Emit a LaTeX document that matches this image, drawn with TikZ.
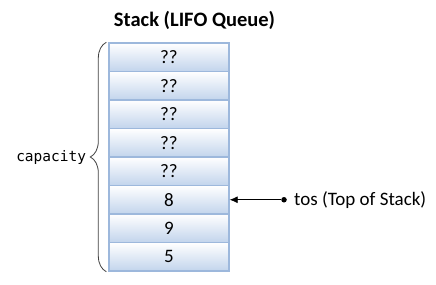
\documentclass[tikz,border=0pt]{standalone}
\usepackage{fontspec}
\setmainfont{Carlito}
\newfontfamily\monofont{DejaVu Sans Mono}
\usetikzlibrary{positioning, arrows.meta, decorations.pathreplacing, calc}
\definecolor{cellblue}{HTML}{C2D4EC}
\definecolor{cellborder}{HTML}{9DB8DC}
\definecolor{bracegray}{HTML}{404040}

\begin{document}
\begin{tikzpicture}[
        x=1pt, y=-1pt,
        cell/.style={draw=cellborder, line width=1.4pt, top color=white, bottom color=cellblue,
                     minimum width=120pt, minimum height=28.5pt, inner sep=0pt,
                     font=\fontsize{19}{21}\selectfont},
        arr/.style={-{Latex[length=8pt, width=7pt]}, thick},
        every node/.style={font=\fontsize{19}{21}\selectfont}
    ]
    \useasboundingbox (0,0) rectangle (436,284);

    % Title
    \node[font=\fontsize{20.5}{22}\selectfont\bfseries] (title) at (194.5,20) {Stack (LIFO Queue)};

    % Stack cells, top to bottom
    \foreach \v [count=\i] in {??,??,??,??,??,8,9,5}
        \node[cell] (c\i) at (169,{43+(\i-0.5)*28.5}) {\v};

    % Capacity brace
    \draw[bracegray, line width=0.8pt, decorate, decoration={brace, amplitude=16pt}]
        ($(c8.south west)+(-2,0)$) -- ($(c1.north west)+(-2,0)$)
        coordinate[midway, xshift=-17pt] (bracetip);
    \node[anchor=east, font=\fontsize{14.5}{16}\selectfont\monofont, inner sep=3pt] (cap) at (bracetip) {capacity};

    % Top of stack pointer
    \node[circle, fill, inner sep=0pt, minimum size=5.5pt] (dot) at (284,199.75) {};
    \node[anchor=west, inner sep=0pt] (tos) at (294,199.75) {tos (Top of Stack)};
    \draw[arr] (dot) -- (c6.east);
\end{tikzpicture}
\end{document}
